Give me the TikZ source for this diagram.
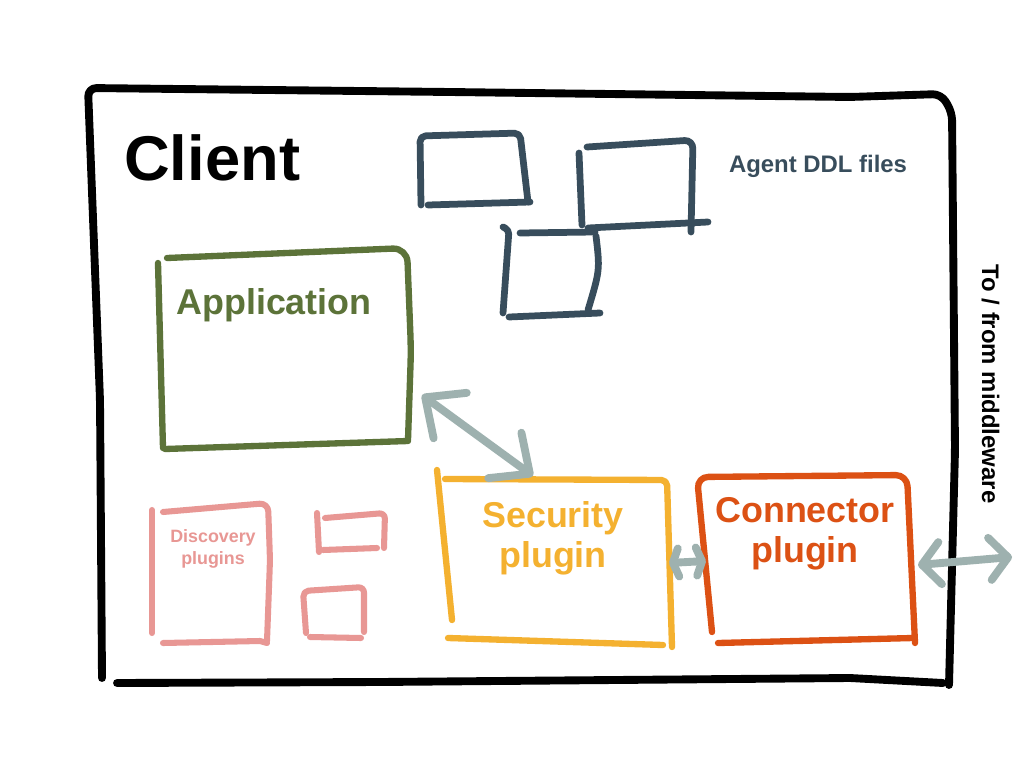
\documentclass[tikz,border=0pt]{standalone}
\usepackage{fontspec}
\setmainfont{Liberation Sans}
\usetikzlibrary{arrows.meta}

\definecolor{cadrecol}{HTML}{000000}
\definecolor{ddlcol}{HTML}{384D5C}
\definecolor{appcol}{HTML}{5C7339}
\definecolor{disccol}{HTML}{E89794}
\definecolor{seccol}{HTML}{F4B130}
\definecolor{conncol}{HTML}{DC5114}
\definecolor{flechecol}{HTML}{9EB1AF}

\tikzset{
  trait/.style={line cap=round, line join=round, line width=4.5pt},
  cadre/.style={trait, draw=cadrecol, line width=5.6pt},
  ddlline/.style={trait, draw=ddlcol, line width=4.8pt},
  appline/.style={trait, draw=appcol},
  discline/.style={trait, draw=disccol, line width=4.3pt},
  secline/.style={trait, draw=seccol},
  connline/.style={trait, draw=conncol},
  texte/.style={inner sep=0pt, font=\bfseries\fontsize{25.5}{28.4}\selectfont, align=center},
  fleche/.style 2 args={draw=flechecol, line width=5.6pt, line cap=round,
    arrows={Straight Barb[round, length=#1, width=#2]-Straight Barb[round, length=#1, width=#2]}},
}

\begin{document}
\begin{tikzpicture}[x=0.025cm, y=-0.025cm]
    \fill[white] (0,0) rectangle (1024,768);
    \useasboundingbox (0,0) rectangle (1024,768);

    % Cadre du client
    \draw[cadre, rounded corners=6] (102,678) -- (100,400) -- (88,88) -- (450,92) -- (850,97)
        -- (941,94) -- (952,112) -- (955,450) -- (949,685);
    \draw[cadre] (117,683) -- (380,682) -- (850,678) -- (943,683);
    \node[inner sep=0pt, anchor=base west, font=\bfseries\fontsize{45}{50}\selectfont] (client) at (124,180) {Client};

    % Fichiers DDL des agents
    \draw[ddlline, rounded corners=4] (421,205) -- (420,136) -- (520,133) -- (528,202);
    \draw[ddlline] (428,205) -- (530,202);
    \draw[ddlline] (579,153) -- (582,225);
    \draw[ddlline, rounded corners=6] (587,147) -- (693,140) -- (691,232);
    \draw[ddlline] (588,228) -- (708,222);
    \draw[ddlline, rounded corners=3] (503,227) -- (509,230) -- (503,313);
    \draw[ddlline] (520,233) -- (595,232);
    \draw[ddlline] (596,236) .. controls (600,270) .. (588,310);
    \draw[ddlline] (509,317) -- (600,313);
    \node[texte, anchor=base, text=ddlcol, font=\bfseries\fontsize{17}{20}\selectfont] (ddl) at (818,172) {Agent DDL files};

    % Application
    \draw[appline] (163,448) -- (158,263);
    \draw[appline, rounded corners=10] (167,258) -- (407,248) -- (411,350) -- (408,440);
    \draw[appline] (165,449) -- (408,441);
    \node[texte, anchor=base, text=appcol] (app) at (274,314) {Application};

    % Plugins de découverte
    \draw[discline] (152,510) -- (152,633);
    \draw[discline, rounded corners=6] (163,512) -- (268,503) -- (270,560) -- (267,641);
    \draw[discline] (163,643) -- (260,641) -- (267,643);
    \draw[discline] (317,513) -- (319,552);
    \draw[discline, rounded corners=4] (325,518) -- (385,513) -- (384,548);
    \draw[discline] (323,550) -- (377,548);
    \draw[discline, rounded corners=4] (306,633) -- (303,591) -- (364,587) -- (364,632);
    \draw[discline] (310,637) -- (361,638);
    \node[texte, text=disccol, font=\bfseries\fontsize{12.7}{15.6}\selectfont] (disc) at (213,549) {Discovery\\plugins};

    % Plugin de sécurité
    \draw[secline] (437,470) -- (452,620);
    \draw[secline, rounded corners=4] (445,479) -- (667,480) -- (672,647);
    \draw[secline] (448,638) -- (663,645);
    \node[texte, text=seccol] (sec) at (553,538) {Security\\plugin};

    % Plugin de connexion
    \draw[connline, rounded corners=8] (712,632) -- (697,477) -- (907,475) -- (915,643);
    \draw[connline] (718,643) -- (913,638);
    \node[texte, text=conncol] (conn) at (805,534) {Connector\\plugin};

    % Vers / depuis le middleware
    \node[inner sep=0pt, anchor=base, rotate=-90, font=\bfseries\fontsize{17}{20}\selectfont] (mw) at (982,384) {To / from middleware};

    % Flèches entre les composants
    \coordinate (appPt) at (422,395);
    \coordinate (secHaut) at (533,476);
    \coordinate (secDroite) at (669,563);
    \coordinate (connGauche) at (706,561);
    \coordinate (connDroite) at (918,565);
    \coordinate (mwPt) at (1012,557);
    \draw[fleche={22pt}{40pt}] (appPt) -- (secHaut);
    \draw[fleche={4pt}{20pt}] (secDroite) -- (connGauche);
    \draw[fleche={13pt}{30pt}] (connDroite) -- (mwPt);

\end{tikzpicture}
\end{document}
